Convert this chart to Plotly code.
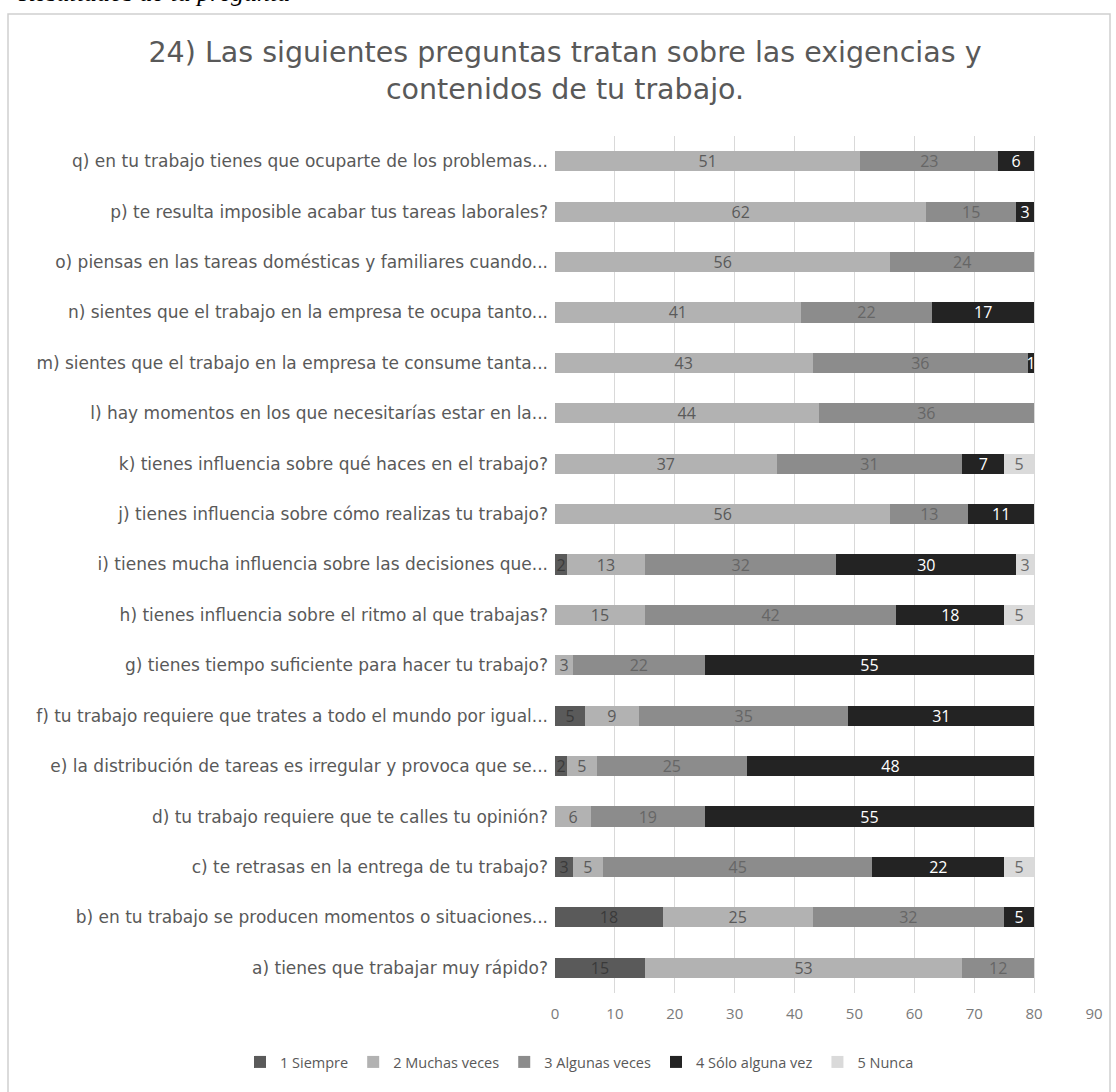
import plotly.graph_objects as go

categories = [
    "a) tienes que trabajar muy rápido?",
    "b) en tu trabajo se producen momentos o situaciones...",
    "c) te retrasas en la entrega de tu trabajo?",
    "d) tu trabajo requiere que te calles tu opinión?",
    "e) la distribución de tareas es irregular y provoca que se...",
    "f) tu trabajo requiere que trates a todo el mundo por igual...",
    "g) tienes tiempo suficiente para hacer tu trabajo?",
    "h) tienes influencia sobre el ritmo al que trabajas?",
    "i) tienes mucha influencia sobre las decisiones que...",
    "j) tienes influencia sobre cómo realizas tu trabajo?",
    "k) tienes influencia sobre qué haces en el trabajo?",
    "l) hay momentos en los que necesitarías estar en la...",
    "m) sientes que el trabajo en la empresa te consume tanta...",
    "n) sientes que el trabajo en la empresa te ocupa tanto...",
    "o) piensas en las tareas domésticas y familiares cuando...",
    "p) te resulta imposible acabar tus tareas laborales?",
    "q) en tu trabajo tienes que ocuparte de los problemas...",
]

series_names = ["1 Siempre", "2 Muchas veces", "3 Algunas veces", "4 Sólo alguna vez", "5 Nunca"]

siempre       = [15, 18, 3, 0, 2, 5, 0, 0, 2, 0, 0, 0, 0, 0, 0, 0, 0]
muchas_veces  = [53, 25, 5, 6, 5, 9, 3, 15, 13, 56, 37, 44, 43, 41, 56, 62, 51]
algunas_veces = [12, 32, 45, 19, 25, 35, 22, 42, 32, 13, 31, 36, 36, 22, 24, 15, 23]
solo_alguna   = [0, 5, 22, 55, 48, 31, 55, 18, 30, 11, 7, 0, 1, 17, 0, 3, 6]
nunca         = [0, 0, 5, 0, 0, 0, 0, 5, 3, 0, 5, 0, 0, 0, 0, 0, 0]

values = [siempre, muchas_veces, algunas_veces, solo_alguna, nunca]
colors = ["#5a5a5a", "#b2b2b2", "#8c8c8c", "#232323", "#dadada"]
text_colors = ["#3a3a3a", "#5a5a5a", "#666666", "#ffffff", "#6a6a6a"]

W, H = 1116, 1092
L, R, T, B = 555, 22, 136, 99
pw, ph = W - L - R, H - T - B

def px(x):
    return (x - L) / pw

def py(y):
    return (H - B - y) / ph

fig = go.Figure()
for name, vals, col, tcol in zip(series_names, values, colors, text_colors):
    fig.add_trace(go.Bar(
        y=categories, x=vals, name=name, orientation="h",
        marker=dict(color=col, line=dict(width=0)),
        text=[str(v) if v > 0 else "" for v in vals],
        textposition="inside", insidetextanchor="middle",
        textangle=0, constraintext="none",
        textfont=dict(color=tcol, size=16, family="Open Sans"),
        hoverinfo="x+y+name",
    ))

fig.update_layout(
    width=W, height=H,
    barmode="stack", bargap=0.6,
    margin=dict(l=L, r=R, t=T, b=B, autoexpand=False),
    paper_bgcolor="white", plot_bgcolor="white",
    font=dict(family="Open Sans", color="#595959"),
    title=dict(
        text="24) Las siguientes preguntas tratan sobre las exigencias y<br>contenidos de tu trabajo.",
        xref="container", x=565 / W, xanchor="center",
        yref="container", y=1 - 62 / H, yanchor="middle",
        font=dict(size=28.5, color="#595959", family="DejaVu Sans"),
    ),
    xaxis=dict(
        range=[0, 90], dtick=10, showgrid=True, gridcolor="#d9d9d9", gridwidth=1,
        zeroline=False, showline=False, ticks="",
        ticklabelstandoff=10,
        tickfont=dict(size=15, color="#7a7a7a"),
    ),
    yaxis=dict(
        categoryorder="array", categoryarray=categories,
        showgrid=False, zeroline=False, showline=False, ticks="",
        ticklabelstandoff=6,
        tickfont=dict(size=17, color="#595959", family="DejaVu Sans"),
    ),
    legend=dict(
        orientation="h", xref="paper", x=px(240), xanchor="left",
        yref="paper", y=py(1062), yanchor="middle",
        font=dict(size=14.5, color="#595959"), traceorder="normal",
        itemwidth=30, tracegroupgap=0,
    ),
    showlegend=True,
)

fig.add_shape(type="rect", xref="paper", yref="paper",
              x0=px(8), x1=px(1110), y0=py(1100), y1=py(14),
              line=dict(color="#cfcfcf", width=1.5), fillcolor="rgba(0,0,0,0)", layer="below")

fig.add_annotation(
    text="<i>Resultados de la pregunta</i>", xref="paper", yref="paper",
    x=px(292), xanchor="right", y=py(-8), yanchor="middle", showarrow=False,
    font=dict(family="Liberation Serif", size=26, color="#000000"),
)

fig.write_html("out.html")
